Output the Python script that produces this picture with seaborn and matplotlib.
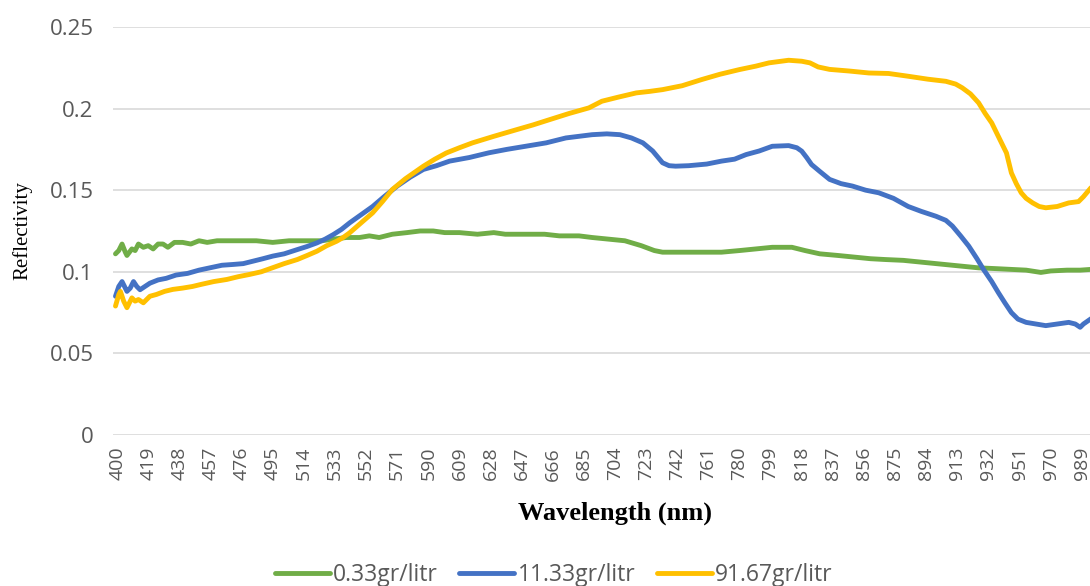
import numpy as np
import pandas as pd
import matplotlib
matplotlib.use("Agg")
import matplotlib.pyplot as plt
import seaborn as sns

# series names and colours
series_names = ["0.33gr/litr", "11.33gr/litr", "91.67gr/litr"]
series_colors = ["#70AD47", "#4472C4", "#FFC000"]

# values (wavelength nm, reflectivity)
wl_green = [399, 401, 403, 405, 406, 409, 411, 413, 416, 419, 422, 425, 428, 431, 435,
            440, 445, 450, 455, 461, 470, 477, 485, 495, 505, 516, 525, 532, 540, 548,
            554, 560, 568, 577, 585, 593, 600, 609, 620, 630, 637, 645, 655, 661, 670,
            682, 690, 700, 710, 720, 728, 733, 745, 760, 769, 780, 790, 800, 812, 820,
            829, 840, 850, 860, 869, 880, 890, 900, 910, 920, 926, 935, 945, 955, 964,
            970, 980, 988, 995]
refl_green = [0.111, 0.113, 0.117, 0.112, 0.110, 0.114, 0.113, 0.117, 0.115, 0.116,
              0.114, 0.117, 0.117, 0.115, 0.118, 0.118, 0.117, 0.119, 0.118, 0.119,
              0.119, 0.119, 0.119, 0.118, 0.119, 0.119, 0.119, 0.120, 0.121, 0.121,
              0.122, 0.121, 0.123, 0.124, 0.125, 0.125, 0.124, 0.124, 0.123, 0.124,
              0.123, 0.123, 0.123, 0.123, 0.122, 0.122, 0.121, 0.120, 0.119, 0.116,
              0.113, 0.112, 0.112, 0.112, 0.112, 0.113, 0.114, 0.115, 0.115, 0.113,
              0.111, 0.110, 0.109, 0.108, 0.1075, 0.107, 0.106, 0.105, 0.104, 0.103,
              0.1024, 0.102, 0.1015, 0.101, 0.0996, 0.1005, 0.101, 0.101, 0.1015]

wl_blue = [399, 401, 403, 405, 406, 408, 410, 412, 414, 417, 420, 425, 430, 436, 443,
           450, 457, 464, 471, 477, 483, 489, 495, 502, 510, 516, 522, 527, 532, 537,
           542, 549, 556, 563, 571, 579, 587, 595, 603, 615, 627, 638, 650, 662, 674,
           682, 690, 699, 707, 714, 721, 727, 733, 737, 741, 749, 760, 769, 777, 784,
           792, 800, 810, 815, 818, 821, 824, 829, 835, 842, 849, 857, 865, 874, 883,
           891, 900, 906, 910, 915, 920, 925, 929, 934, 938, 942, 946, 950, 955, 961,
           967, 974, 981, 985, 988, 990, 995]
refl_blue = [0.085, 0.091, 0.094, 0.090, 0.088, 0.090, 0.094, 0.091, 0.089, 0.091,
             0.093, 0.095, 0.096, 0.098, 0.099, 0.101, 0.1025, 0.104, 0.1045, 0.105,
             0.1065, 0.108, 0.1096, 0.111, 0.1136, 0.1155, 0.1177, 0.120, 0.1228, 0.126,
             0.130, 0.135, 0.140, 0.146, 0.1525, 0.158, 0.1627, 0.165, 0.1678, 0.170,
             0.1729, 0.175, 0.177, 0.179, 0.182, 0.183, 0.184, 0.1845, 0.184, 0.182,
             0.179, 0.174, 0.1668, 0.165, 0.1647, 0.165, 0.166, 0.1678, 0.169, 0.1718,
             0.174, 0.1769, 0.1773, 0.176, 0.1739, 0.170, 0.1657, 0.1615, 0.1566, 0.154,
             0.1525, 0.150, 0.1484, 0.145, 0.140, 0.137, 0.134, 0.1315, 0.128, 0.122,
             0.1157, 0.108, 0.1014, 0.094, 0.0873, 0.081, 0.075, 0.071, 0.069, 0.068,
             0.067, 0.068, 0.069, 0.068, 0.066, 0.068, 0.0715]

wl_yellow = [399, 401, 402, 404, 406, 409, 411, 413, 416, 420, 424, 429, 434, 440, 446,
             451, 459, 467, 474, 481, 488, 495, 502, 510, 516, 522, 528, 534, 538, 542,
             549, 556, 562, 568, 576, 587, 594, 601, 609, 617, 630, 644, 654, 664, 676,
             688, 696, 706, 717, 725, 733, 745, 757, 768, 780, 790, 798, 810, 818, 823,
             828, 835, 847, 859, 871, 883, 895, 906, 912, 916, 921, 926, 930, 934, 938,
             943, 946, 949, 952, 955, 959, 963, 967, 974, 981, 987, 990, 995]
refl_yellow = [0.079, 0.086, 0.088, 0.082, 0.078, 0.084, 0.082, 0.083, 0.081, 0.085,
               0.0861, 0.088, 0.0892, 0.090, 0.091, 0.0922, 0.094, 0.0953, 0.097, 0.0984,
               0.100, 0.1025, 0.105, 0.1075, 0.110, 0.1126, 0.116, 0.1187, 0.121, 0.1239,
               0.130, 0.1361, 0.143, 0.1504, 0.157, 0.1647, 0.169, 0.1728, 0.176, 0.179,
               0.183, 0.1871, 0.190, 0.1932, 0.197, 0.2004, 0.2045, 0.207, 0.2096, 0.2105,
               0.2116, 0.214, 0.2178, 0.221, 0.2239, 0.226, 0.228, 0.2296, 0.229, 0.228,
               0.2255, 0.224, 0.223, 0.2218, 0.2215, 0.2198, 0.218, 0.2167, 0.215, 0.2127,
               0.209, 0.2035, 0.197, 0.1912, 0.183, 0.1728, 0.1606, 0.154, 0.1484, 0.145,
               0.1422, 0.140, 0.1392, 0.140, 0.1422, 0.143, 0.146, 0.152]

x_tick_labels = list(range(400, 1000, 19))
y_ticks = [0, 0.05, 0.1, 0.15, 0.2, 0.25]

if __name__ == "__main__":
    sns.set_theme(style="white")
    plt.rcParams['font.family'] = ['Open Sans', 'DejaVu Sans']

    # long-form table for seaborn
    df = pd.concat([
        pd.DataFrame({'wl': wl_green, 'refl': refl_green, 'series': series_names[0]}),
        pd.DataFrame({'wl': wl_blue, 'refl': refl_blue, 'series': series_names[1]}),
        pd.DataFrame({'wl': wl_yellow, 'refl': refl_yellow, 'series': series_names[2]}),
    ], ignore_index=True)

    fig = plt.figure(figsize=(10.9, 5.86), dpi=100)
    ax = fig.add_axes([0.1037, 0.2577, 0.8963, 0.6963])

    sns.lineplot(data=df, x='wl', y='refl', hue='series', hue_order=series_names,
                 palette=series_colors, sort=False, linewidth=3.5, estimator=None,
                 legend=False, ax=ax)

    ax.set_xlim(397.5, 994)
    ax.set_ylim(0, 0.25)
    ax.set_yticks(y_ticks)
    ax.set_yticklabels(['0', '0.05', '0.1', '0.15', '0.2', '0.25'])
    ax.set_xticks(x_tick_labels)
    ax.set_xticklabels([str(v) for v in x_tick_labels], rotation=90)
    ax.tick_params(axis='both', length=0, colors='#595959')
    ax.tick_params(axis='y', pad=14, labelsize=16)
    ax.tick_params(axis='x', pad=8.5, labelsize=14)
    ax.yaxis.grid(True, color='#D9D9D9', linewidth=1.2)
    ax.set_axisbelow(True)
    for s in ax.spines.values():
        s.set_visible(False)

    ax.set_xlabel('Wavelength (nm)', family='Liberation Serif', fontweight='bold',
                  fontsize=19, color='black')
    ax.xaxis.set_label_coords(0.514, -0.191)
    ax.xaxis.label.set_va('center')
    ax.set_ylabel('Reflectivity', family='Liberation Serif', fontsize=15,
                  color='black')
    ax.yaxis.set_label_coords(-0.093, 0.5)
    ax.yaxis.label.set_va('center')

    handles = [plt.Line2D([], [], color=c, linewidth=3.5) for c in series_colors]
    fig.legend(handles, series_names, loc='center', bbox_to_anchor=(0.508, 0.019),
               ncol=3, frameon=False, fontsize=16.5, labelcolor='#595959',
               handlelength=2.4, handletextpad=0.13, columnspacing=0.95,
               borderpad=0, borderaxespad=0)

    plt.savefig('out.png', dpi=100)
